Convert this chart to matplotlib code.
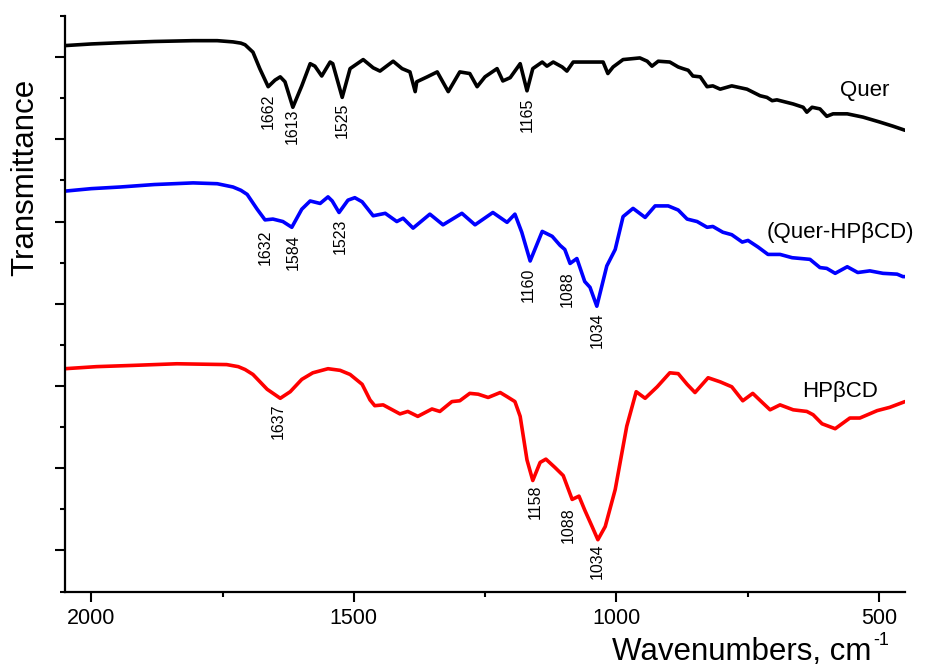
import matplotlib
matplotlib.use("Agg")
import matplotlib.pyplot as plt

plt.rcParams['font.family'] = ['Liberation Sans', 'DejaVu Sans']
plt.rcParams['mathtext.default'] = 'regular'

# ---- data (wavenumber cm-1, transmittance a.u.) ----
quer_wn = [2050, 2000, 1945, 1880, 1806, 1760, 1730, 1715, 1707, 1692, 1679, 1663, 1650, 1640, 1631, 1616, 1599, 1583, 1574,
           1561, 1545, 1540, 1522, 1507, 1482, 1463, 1450, 1425, 1408, 1393, 1383, 1380, 1360,
           1341, 1320, 1298, 1279, 1265, 1250, 1227, 1216, 1202, 1183, 1170, 1159, 1141, 1132,
           1120, 1103, 1094, 1082, 1025, 1016, 1006, 987, 955, 941, 932, 920, 898, 882, 873,
           863, 854, 840, 827, 816, 802, 780, 751, 726, 713, 703, 694, 663, 644, 637, 627, 612,
           599, 587, 560, 530, 498, 473, 450]
quer_t = [66.4, 66.6, 66.75, 66.9, 67.0, 67.0, 66.85, 66.7, 66.5, 65.6, 63.6, 61.4, 62.2, 62.6, 62.0, 58.9, 61.5, 64.2, 63.9,
          62.7, 64.4, 64.2, 60.1, 63.6, 64.7, 63.7, 63.3, 64.5, 63.6, 63.2, 60.8, 62.0, 62.6,
          63.2, 60.8, 63.2, 63.0, 61.4, 62.6, 63.6, 62.1, 62.5, 64.2, 60.9, 63.6, 64.4, 63.9,
          64.4, 63.8, 63.3, 64.4, 64.4, 63.0, 63.8, 64.7, 64.9, 64.5, 63.9, 64.5, 64.4, 63.8, 63.6,
          63.4, 62.7, 62.6, 61.4, 61.5, 61.1, 61.5, 61.1, 60.3, 60.1, 59.7, 59.8, 59.3, 58.9, 58.3, 58.9, 58.7,
          57.8, 58.1, 58.1, 57.7, 57.1, 56.6, 56.1]

complex_wn = [2050, 2000, 1945, 1880, 1806, 1760, 1730, 1715, 1703, 1684, 1669, 1654, 1635, 1618, 1599, 1583, 1564, 1549,
              1541, 1528, 1511, 1498, 1484, 1463, 1440, 1418, 1406, 1387, 1355, 1330, 1294, 1269,
              1235, 1208, 1193, 1180, 1164, 1141, 1122, 1107, 1098, 1088, 1075, 1060, 1050, 1037,
              1018, 1002, 987, 968, 945, 926, 901, 882, 865, 846, 827, 816, 797, 780, 760, 749,
              730, 711, 688, 665, 631, 612, 599, 583, 560, 540, 517, 492, 465, 454, 450]
complex_t = [48.7, 49.0, 49.2, 49.5, 49.7, 49.6, 49.2, 48.8, 48.3, 46.5, 45.2, 45.3, 45.0, 44.3, 46.5, 47.5, 47.2, 48.0,
             47.5, 46.1, 47.6, 47.9, 47.4, 45.7, 46.0, 45.0, 45.4, 44.2, 45.9, 44.6, 46.0, 44.6,
             46.1, 44.9, 45.9, 43.7, 40.2, 43.8, 43.2, 42.1, 41.6, 39.9, 40.5, 37.7, 37.0, 34.7,
             39.6, 41.6, 45.6, 46.6, 45.5, 46.9, 46.9, 46.4, 45.3, 45.0, 44.3, 44.4, 43.7, 43.4, 42.5, 42.7,
             41.9, 41.0, 41.0, 40.6, 40.4, 39.4, 39.3, 38.7, 39.5, 38.8, 39.0, 38.7, 38.6, 38.3, 38.3]

hpbcd_wn = [2050, 1990, 1921, 1837, 1742, 1720, 1707, 1692, 1665, 1640, 1621, 1599, 1578, 1549, 1526, 1507,
            1484, 1469, 1460, 1444, 1412, 1397, 1378, 1351, 1336, 1313, 1298, 1279, 1263, 1244,
            1221, 1208, 1193, 1183, 1170, 1159, 1145, 1134, 1117, 1101, 1084, 1071, 1060, 1046,
            1035, 1021, 1002, 980, 962, 945, 922, 898, 882, 865, 850, 825, 802, 780, 759, 740,
            722, 707, 688, 663, 637, 625, 608, 583, 555, 536, 503, 479, 450]
hpbcd_t = [27.1, 27.35, 27.5, 27.7, 27.6, 27.35, 27.0, 26.4, 24.6, 23.5, 24.3, 25.8, 26.6, 27.1, 26.9, 26.4,
           25.2, 23.3, 22.6, 22.7, 21.6, 21.9, 21.3, 22.2, 21.9, 23.1, 23.2, 24.1, 24.0, 23.6,
           24.2, 23.7, 23.1, 21.3, 16.0, 13.5, 15.7, 16.1, 15.1, 14.1, 11.2, 11.6, 9.9, 7.9,
           6.3, 7.9, 12.4, 20.1, 24.3, 23.5, 24.9, 26.6, 26.5, 25.2, 24.2, 26.0, 25.5, 24.9, 23.2, 24.1,
           23.0, 22.1, 22.7, 22.1, 21.9, 21.5, 20.4, 19.8, 21.1, 21.1, 22.0, 22.4, 23.1]

series_names = ["Quer", "(Quer-HPβCD)", "HPβCD"]
series_colors = ["black", "#0000ff", "#ff0000"]

# peak annotations: text, position (wn), top of label (a.u.)
quer_peaks = [("1662", 1663, 60.5), ("1613", 1618, 58.7), ("1525", 1522, 59.5), ("1165", 1170, 60.1)]
complex_peaks = [("1632", 1669, 44.0), ("1584", 1616, 43.4), ("1523", 1526, 45.3),
                 ("1160", 1168, 39.4), ("1088", 1094, 38.9), ("1034", 1037, 33.9)]
hpbcd_peaks = [("1637", 1644, 22.9), ("1158", 1155, 13.0), ("1088", 1092, 10.3), ("1034", 1037, 5.9)]

name_pos = [(526, 60.9), (574, 43.7), (574, 24.3)]

x_major = [2000, 1500, 1000, 500]
x_minor = [1750, 1250, 750]
y_major = [5, 15, 25, 35, 45, 55, 65]
y_minor = [0, 10, 20, 30, 40, 50, 60, 70]

fig = plt.figure(figsize=(9.25, 6.66), dpi=100)
ax = fig.add_axes([65 / 925, (666 - 591.5) / 666, (905 - 65) / 925, (591.5 - 16) / 666])

for wn, t, c in zip([quer_wn, complex_wn, hpbcd_wn], [quer_t, complex_t, hpbcd_t], series_colors):
    ax.plot(wn, t, color=c, lw=2.6, solid_joinstyle='round', solid_capstyle='round')

for peaks in (quer_peaks, complex_peaks, hpbcd_peaks):
    for txt, x, y in peaks:
        ax.text(x, y, txt, rotation=90, ha='center', va='top', fontsize=11.5, color='black')

for name, (x, y) in zip(series_names, name_pos):
    ax.text(x, y, name, ha='center', va='center', fontsize=16, color='black', clip_on=False)

ax.set_xlim(2050, 450)
ax.set_ylim(0, 70)
ax.set_xticks(x_major)
ax.set_xticks(x_minor, minor=True)
ax.set_yticks(y_major)
ax.set_yticks(y_minor, minor=True)
ax.set_yticklabels([])
ax.tick_params(axis='both', which='major', direction='out', length=7, width=1.5, labelsize=15.5, pad=5)
ax.tick_params(axis='both', which='minor', direction='out', length=3.8, width=1.5)
for s in ('top', 'right'):
    ax.spines[s].set_visible(False)
for s in ('left', 'bottom'):
    ax.spines[s].set_linewidth(1.6)

fig.text(25 / 925, 1 - 177 / 666, "Transmittance", rotation=90, ha='center', va='center', fontsize=22.5)
fig.text(612 / 925, 1 - 660 / 666, "Wavenumbers, cm", ha='left', va='baseline', fontsize=22.5)
fig.text(873 / 925, 1 - 645 / 666, "-1", ha='left', va='baseline', fontsize=13)

fig.savefig("out.png", dpi=100)
